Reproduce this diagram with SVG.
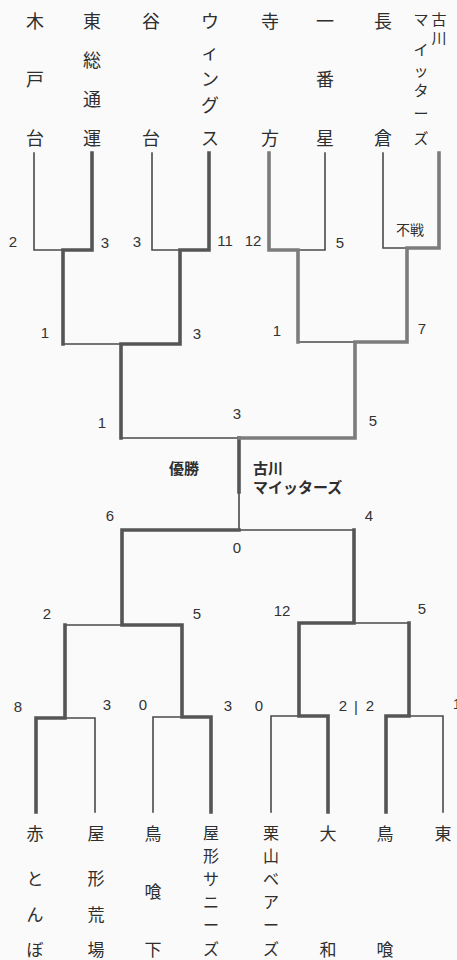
<svg xmlns="http://www.w3.org/2000/svg" width="457" height="960" viewBox="0 0 457 960">
<style>
.bg{fill:#fafafa}
.t{stroke:#4a4a4a;stroke-width:1.6;fill:none;stroke-linecap:square}
.k{stroke:#555;stroke-width:3.6;fill:none;stroke-linecap:square;stroke-linejoin:miter}
.g{stroke:#7c7c7c;stroke-width:3.6;fill:none;stroke-linecap:square;stroke-linejoin:miter}
.jp{font-family:"Noto Sans CJK JP","Noto Sans",sans-serif;fill:#2e2e2e;text-anchor:middle;dominant-baseline:central}
.n{font-size:18px}
.m{font-size:17px}
.c{font-size:16px}
.s{font-size:15px}
.sc{font-family:"Liberation Sans","DejaVu Sans",sans-serif;font-size:15px;fill:#333;text-anchor:middle;dominant-baseline:central}
.b{font-weight:bold}
</style>
<rect class="bg" x="0" y="0" width="457" height="960"/>
<g id="connectors">
  <path class="t" d="M34,153V250H63 M152,153V250H180 M325,153V250H298 M383,153V248H407 M63,344H121 M298,342H355 M121,438H239 M239,492V530 M239,530H354"/>
  <path class="k" d="M92,153V250H63V344 M209,153V250H180V344H121V438 M239,438V492"/>
  <path class="g" d="M269,153V250H298V342 M439,153V248H407V342H355V438H239"/>
  <path class="t" d="M65,625H122 M354,623H409 M65,718H95V812 M182,717H153V812 M299,716H271V812 M409,716H443V812"/>
  <path class="k" d="M239,530H122V625H182V717H211V812 M36,812V718H65V625 M354,530V623H299V716H328V812 M386,812V716H409V623"/>
</g>
<g id="team-kidodai" class="jp n"><text x="35" y="20">木</text><text x="35" y="78">戸</text><text x="35" y="137">台</text></g>
<g id="team-higashisoutsuun" class="jp n"><text x="92" y="20">東</text><text x="92" y="59">総</text><text x="92" y="98">通</text><text x="92" y="137">運</text></g>
<g id="team-yadai" class="jp n"><text x="151" y="20">谷</text><text x="151" y="137">台</text></g>
<g id="team-wings" class="jp n"><text x="210" y="20">ウ</text><text x="210" y="51">ィ</text><text x="210" y="78">ン</text><text x="210" y="104">グ</text><text x="210" y="137">ス</text></g>
<g id="team-terakata" class="jp n"><text x="270" y="20">寺</text><text x="270" y="137">方</text></g>
<g id="team-ichibanboshi" class="jp n"><text x="325" y="20">一</text><text x="325" y="78">番</text><text x="325" y="137">星</text></g>
<g id="team-nagakura" class="jp n"><text x="383" y="20">長</text><text x="383" y="137">倉</text></g>
<g id="team-furukawa" class="jp s"><text x="439" y="18">古</text><text x="439" y="37">川</text><text x="421" y="18">マ</text><text x="421" y="48">イ</text><text x="421" y="69">ッ</text><text x="421" y="89">タ</text><text x="421" y="112">ー</text><text x="421" y="137">ズ</text></g>

<g id="team-akatonbo" class="jp m"><text x="35" y="832">赤</text><text x="35" y="877">と</text><text x="35" y="913">ん</text><text x="35" y="948">ぼ</text></g>
<g id="team-yakataaraba" class="jp m"><text x="96" y="832">屋</text><text x="96" y="877">形</text><text x="96" y="913">荒</text><text x="96" y="948">場</text></g>
<g id="team-tobakurashita" class="jp m"><text x="153" y="832">鳥</text><text x="153" y="890">喰</text><text x="153" y="948">下</text></g>
<g id="team-yakatasunnies" class="jp c"><text x="211" y="832">屋</text><text x="211" y="855">形</text><text x="211" y="878">サ</text><text x="211" y="901">ニ</text><text x="211" y="924">ー</text><text x="211" y="948">ズ</text></g>
<g id="team-kuriyamabears" class="jp c"><text x="271" y="832">栗</text><text x="271" y="855">山</text><text x="271" y="878">ベ</text><text x="271" y="901">ア</text><text x="271" y="924">ー</text><text x="271" y="948">ズ</text></g>
<g id="team-daiwa" class="jp m"><text x="328" y="832">大</text><text x="328" y="948">和</text></g>
<g id="team-tobakura" class="jp m"><text x="385" y="832">鳥</text><text x="385" y="948">喰</text></g>
<g id="team-higashi" class="jp m"><text x="443" y="832">東</text></g>

<g id="scores-top" class="sc">
  <text x="13" y="241">2</text><text x="105" y="242">3</text>
  <text x="137" y="241">3</text><text x="225" y="240">11</text>
  <text x="253" y="240">12</text><text x="340" y="242">5</text>
  <text x="45" y="332">1</text><text x="197" y="333">3</text>
  <text x="277" y="330">1</text><text x="422" y="328">7</text>
  <text x="102" y="422">1</text><text x="237" y="413">3</text><text x="373" y="420">5</text>
</g>
<g id="label-fusen" class="jp"><text x="410" y="229" style="font-size:14px">不戦</text></g>
<g id="champion" class="jp b" style="font-size:15px">
  <text x="184" y="467">優勝</text>
  <text x="253" y="467" style="text-anchor:start">古川</text>
  <text x="253" y="486" style="text-anchor:start">マイッターズ</text>
</g>
<g id="scores-bottom" class="sc">
  <text x="110" y="515">6</text><text x="369" y="515">4</text><text x="237" y="547">0</text>
  <text x="47" y="613">2</text><text x="197" y="613">5</text>
  <text x="282" y="610">12</text><text x="422" y="608">5</text>
  <text x="18" y="706">8</text><text x="107" y="704">3</text>
  <text x="143" y="704">0</text><text x="228" y="705">3</text>
  <text x="259" y="705">0</text><text x="343" y="705">2</text><text x="356" y="706">|</text><text x="370" y="705">2</text>
  <text x="457" y="703">1</text>
</g>
</svg>
